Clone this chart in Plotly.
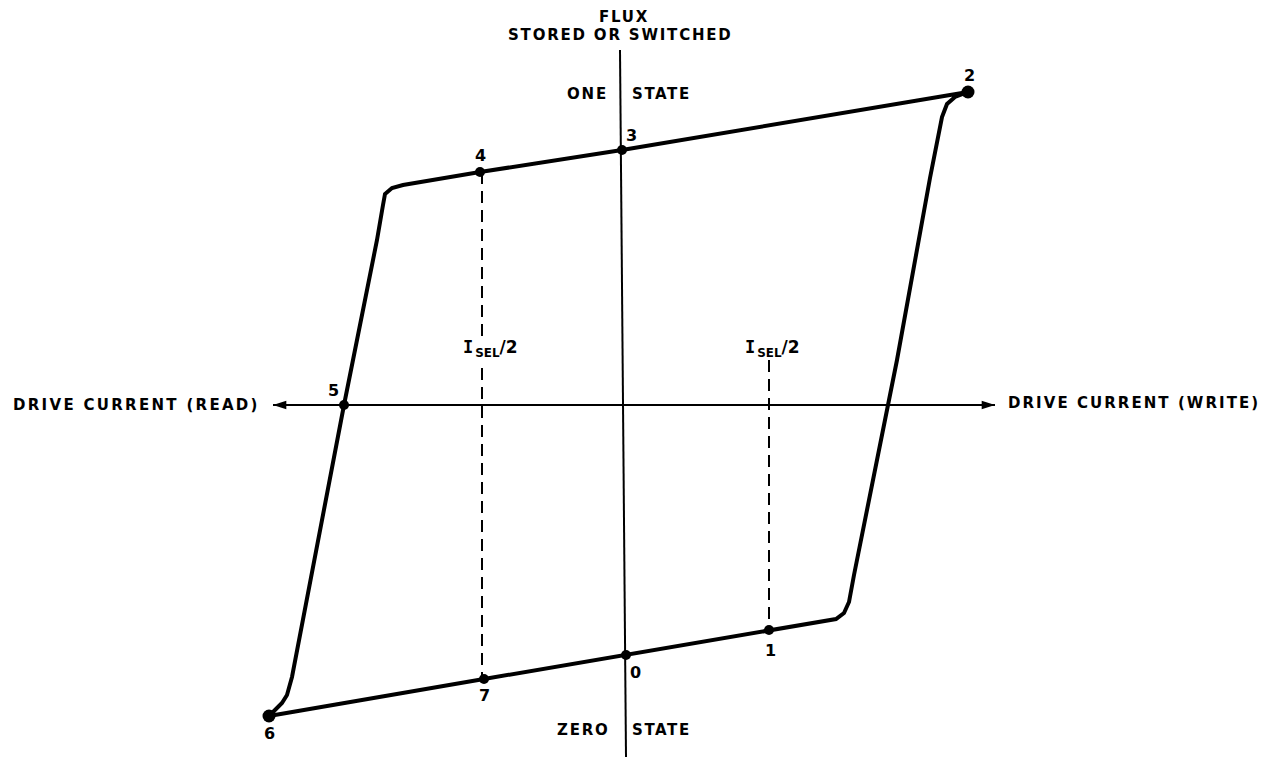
import plotly.graph_objects as go

# ---------------- data (drive current X, flux Y; origin at axis crossing) ----------------
point_labels = ["0", "1", "2", "3", "4", "5", "6", "7"]
point_x = [2, 145, 344, -2, -144, -280, -355, -140]
point_y = [-250, -225, 313, 255, 233, 0, -311, -274]
point_size = [10, 10, 13, 10, 10, 10, 13, 10]

# hysteresis loop traced from point 2, along the one-state branch, down and back
loop_x = [344, -2, -144, -184, -221, -232, -239, -241, -247, -280, -332, -337, -342, -351, -355,
          -140, 2, 145, 176, 212, 220, 225, 230, 264, 273, 306, 318, 323, 331, 344]
loop_y = [313, 255, 233, 226, 220, 217, 211, 200, 165, 0, -272, -290, -298, -307, -311,
          -274, -250, -225, -220, -214, -208, -197, -170, 0, 45, 227, 288, 301, 308, 313]

# half-select current lines (x, y_top, y_bottom) for each segment
sel_left_x = -142
sel_left_segments = [(233, 68), (37, -274)]
sel_right_x = 145
sel_right_segments = [(45, -225)]

# axes extents
x_axis_range = (-351, 371)
flux_axis_x = (-4, 2)
flux_axis_y = (355, -352)

# texts
x_left_label = "DRIVE CURRENT (READ)"
x_right_label = "DRIVE CURRENT (WRITE)"
y_label_1 = "FLUX"
y_label_2 = "STORED OR SWITCHED"
one_state = ("ONE", "STATE")
zero_state = ("ZERO", "STATE")
sel_label = ("<span style=\"font-family:'DejaVu Sans Mono';letter-spacing:2px\">I</span>"
             "<sub>SEL</sub>/2")

# ---------------- figure ----------------
FONT = "DejaVu Sans"
def ls(t, px):
    return f'<span style="letter-spacing:{px}px">{t}</span>'

fig = go.Figure()

# flux axis
fig.add_trace(go.Scatter(x=list(flux_axis_x), y=list(flux_axis_y), mode="lines",
                         line=dict(color="black", width=2), hoverinfo="skip"))

# drive current axis with arrowheads
fig.add_trace(go.Scatter(x=list(x_axis_range), y=[0, 0], mode="lines+markers",
                         line=dict(color="black", width=2),
                         marker=dict(symbol=["arrow", "arrow"], angle=[-90, 90], size=14,
                                     color="black", line=dict(width=0), opacity=1),
                         hoverinfo="skip"))

# dashed select lines
for (x0, segs) in [(sel_left_x, sel_left_segments), (sel_right_x, sel_right_segments)]:
    for (ya, yb) in segs:
        fig.add_trace(go.Scatter(x=[x0, x0], y=[ya, yb], mode="lines",
                                 line=dict(color="black", width=2, dash="12px,7px"),
                                 hoverinfo="skip"))

# loop
fig.add_trace(go.Scatter(x=loop_x, y=loop_y, mode="lines",
                         line=dict(color="black", width=4, shape="linear"),
                         hoverinfo="skip"))

# points
fig.add_trace(go.Scatter(x=point_x, y=point_y, mode="markers",
                         marker=dict(color="black", size=point_size, opacity=1,
                                     line=dict(width=0)), hoverinfo="skip"))

annotations = []

def txt(x, y, t, anchor="center", size=15, yanchor="middle"):
    annotations.append(dict(x=x, y=y, xref="x", yref="y", text=t, showarrow=False,
                            xanchor=anchor, yanchor=yanchor,
                            font=dict(family=FONT, size=size, color="black", weight="bold")))

txt(-362, 0, ls(x_left_label, 2.3), anchor="right", size=15)
txt(382, 2, ls(x_right_label, 2.05), anchor="left", size=15)
txt(0, 388, ls(y_label_1, 1.8), size=15)
txt(-4, 370, ls(y_label_2, 1.8), size=15)
txt(-14, 311, ls(one_state[0], 1.8), anchor="right", size=15)
txt(6, 311, ls(one_state[1], 1.6), anchor="left", size=15)
txt(-12, -325, ls(zero_state[0], 1.8), anchor="right", size=15)
txt(6, -325, ls(zero_state[1], 1.6), anchor="left", size=15)

label_offsets = {"0": (9, -17), "1": (1, -20), "2": (1, 17), "3": (9, 15), "4": (0, 17),
                 "5": (-11, 15), "6": (0, -17), "7": (0, -16)}
for lab, px, py in zip(point_labels, point_x, point_y):
    dx, dy = label_offsets[lab]
    txt(px + dx, py + dy, lab, size=16)

txt(-134, 57, sel_label, size=17)
txt(148, 57, sel_label, size=17)

fig.update_layout(
    width=1273, height=757,
    margin=dict(l=0, r=0, t=0, b=0),
    paper_bgcolor="white", plot_bgcolor="white",
    showlegend=False,
    xaxis=dict(range=[-624, 649], visible=False, fixedrange=True),
    yaxis=dict(range=[-352, 405], visible=False, fixedrange=True),
    annotations=annotations,
)

fig.write_html("out.html", config={"displayModeBar": False},
               post_script="document.body.style.margin='0';")
